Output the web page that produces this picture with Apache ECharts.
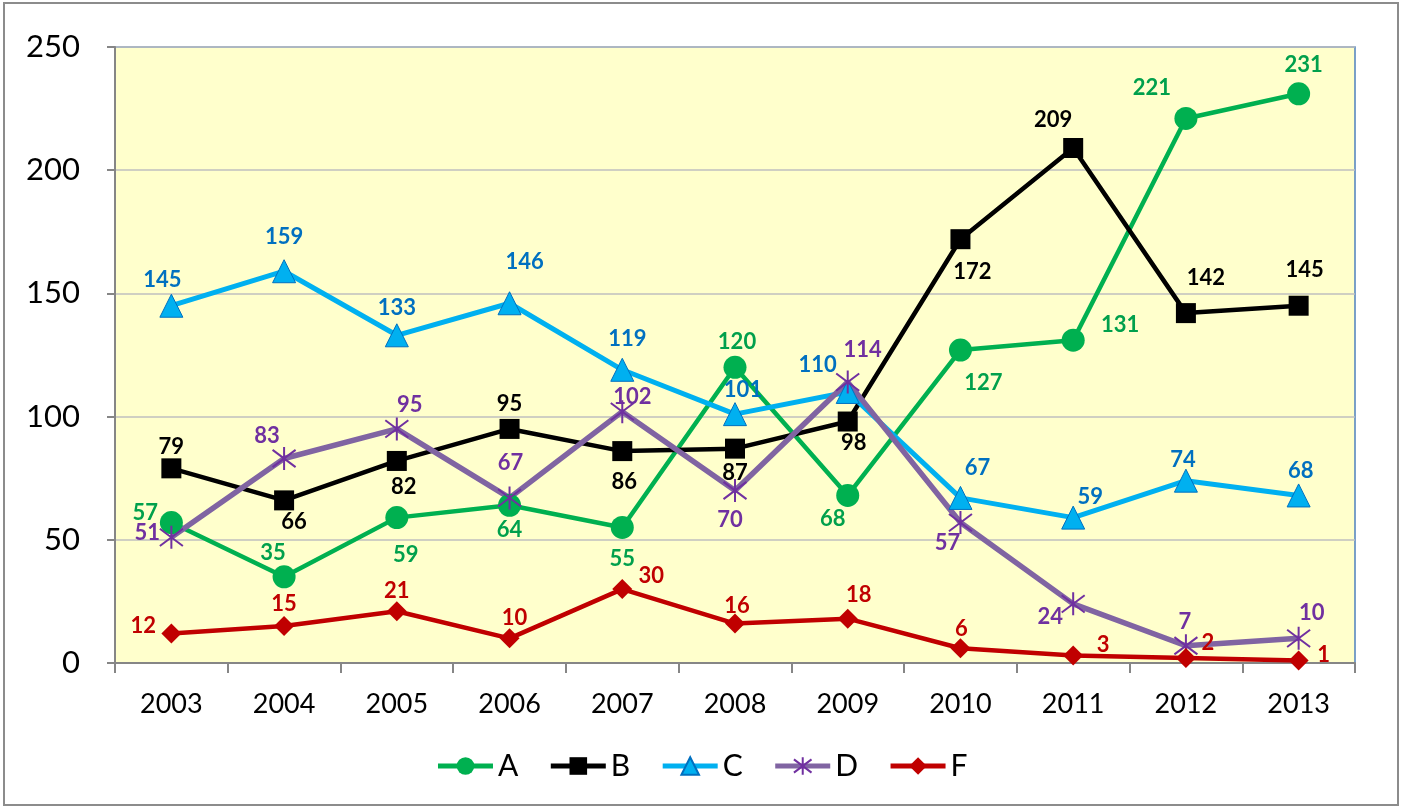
<!DOCTYPE html>
<html>
<head>
<meta charset="utf-8">
<script src="https://cdn.jsdelivr.net/npm/echarts@6/dist/echarts.min.js"></script>
<style>html,body{margin:0;padding:0;background:#fff}#c{width:1403px;height:808px}</style>
</head>
<body>
<div id="c"></div>
<script>
// ---- data ----
const years = ['2003','2004','2005','2006','2007','2008','2009','2010','2011','2012','2013'];
const seriesA = [57, 35, 59, 64, 55, 120, 68, 127, 131, 221, 231];
const seriesB = [79, 66, 82, 95, 86, 87, 98, 172, 209, 142, 145];
const seriesC = [145, 159, 133, 146, 119, 101, 110, 67, 59, 74, 68];
const seriesD = [51, 83, 95, 67, 102, 70, 114, 57, 24, 7, 10];
const seriesF = [12, 15, 21, 10, 30, 16, 18, 6, 3, 2, 1];
const yTicks = [0, 50, 100, 150, 200, 250];

// ---- label placement (px offsets from each marker) ----
const offA = [[-26,-10],[-11,-24],[9,37],[0,25],[0,31],[2,-25],[-15,23],[23,33],[47,-15],[-34,-31],[5,-29]];
const offB = [[0,-21],[10,22],[7,26],[0,-25],[2,31],[0,24],[6,21],[12,33],[-20,-28],[20,-35],[6,-36]];
const offC = [[-9,-26],[0,-34],[0,-27],[15,-41],[5,-31],[8,-24],[-30,-27],[17,-30],[17,-21],[-3,-21],[2,-25]];
const offD = [[-24,-4],[-17,-23],[13,-24],[1,-35],[10,-15],[-5,29],[15,-32],[-13,20],[-23,13],[-1,-24],[13,-25]];
const offF = [[-28,-8],[0,-22],[0,-20],[5,-20],[29,-13],[2,-18],[11,-24],[1,-19],[30,-11],[22,-15],[25,-6]];

const FONT = 'Lato, "Liberation Sans", sans-serif';

function build(name, vals, offs, lineColor, labelColor, symbol, size, width, itemStyle) {
  return {
    name: name,
    type: 'line',
    data: vals.map((v, i) => ({ value: v, label: { offset: offs[i] } })),
    symbol: symbol,
    symbolSize: size,
    showAllSymbol: true,
    lineStyle: { color: lineColor, width: width },
    itemStyle: itemStyle,
    label: {
      show: true,
      position: 'inside',
      align: 'center',
      verticalAlign: 'middle',
      color: labelColor,
      fontFamily: FONT,
      fontWeight: 'bold',
      fontSize: 22
    },
    emphasis: { disabled: true },
    z: 3
  };
}

const asterisk = 'path://M0,-1L0,1M-0.9,-0.75L0.9,0.75M-0.9,0.75L0.9,-0.75';

const chart = echarts.init(document.getElementById('c'), null, { renderer: 'canvas' });
chart.setOption({
  animation: false,
  backgroundColor: '#ffffff',
  graphic: [{
    type: 'rect',
    shape: { x: 4, y: 3, width: 1394, height: 802 },
    style: { fill: 'none', stroke: '#8c8c8c', lineWidth: 2 },
    z: -10
  }],
  grid: {
    left: 115, right: 48, top: 47, bottom: 145,
    show: true,
    backgroundColor: '#FFFFCC',
    borderColor: '#4F81BD',
    borderWidth: 1.5
  },
  legend: {
    bottom: 22,
    left: 'center',
    itemWidth: 55,
    itemHeight: 22,
    itemGap: 30,
    lineStyle: { width: 5 },
    textStyle: { fontFamily: FONT, fontSize: 30, color: '#000' },
    data: ['A', 'B', 'C', 'D', 'F']
  },
  xAxis: {
    type: 'category',
    data: years,
    boundaryGap: true,
    axisLine: { lineStyle: { color: '#868686', width: 2 } },
    axisTick: { show: true, length: 10, lineStyle: { color: '#868686', width: 2 } },
    axisLabel: { color: '#000', fontFamily: FONT, fontSize: 27, margin: 28 },
    splitLine: { show: false }
  },
  yAxis: {
    type: 'value',
    min: yTicks[0],
    max: yTicks[yTicks.length - 1],
    interval: 50,
    axisLine: { show: true, lineStyle: { color: '#868686', width: 2 } },
    axisTick: { show: true, length: 8, lineStyle: { color: '#868686', width: 2 } },
    axisLabel: { color: '#000', fontFamily: FONT, fontSize: 31, margin: 35 },
    splitLine: { show: true, lineStyle: { color: '#BFBFBF', width: 1.5 } }
  },
  series: [
    build('A', seriesA, offA, '#00B050', '#00A04C', 'circle', 23, 4.5, { color: '#00B050' }),
    build('B', seriesB, offB, '#000000', '#000000', 'rect', 20, 4.5, { color: '#000000' }),
    build('C', seriesC, offC, '#00B0F0', '#0070C0', 'triangle', 23, 5, { color: '#00B0F0', borderColor: '#0070C0', borderWidth: 1 }),
    build('D', seriesD, offD, '#8064A2', '#7030A0', asterisk, 23, 5.5, { color: '#7030A0', borderColor: '#7030A0', borderWidth: 2 }),
    build('F', seriesF, offF, '#C00000', '#C00000', 'diamond', 20, 4.5, { color: '#C00000' })
  ]
});
</script>
</body>
</html>
